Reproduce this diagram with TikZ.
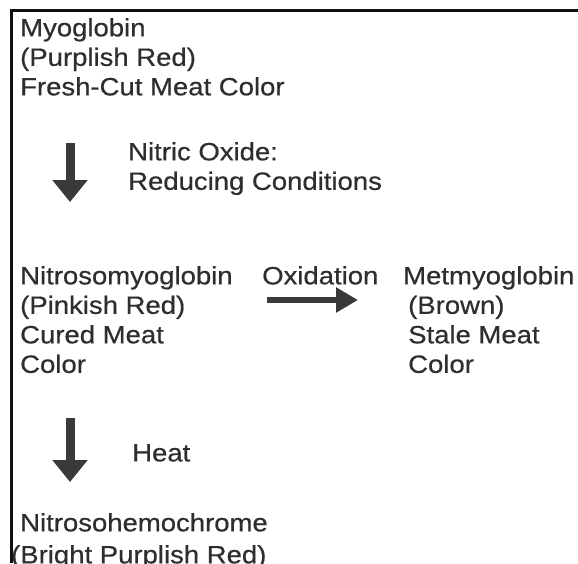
\documentclass[tikz,border=0pt]{standalone}
\usepackage{fontspec}
\setmainfont[FakeStretch=1.1,FakeBold=0.5]{Liberation Sans}
\usetikzlibrary{arrows.meta}
\definecolor{inkgray}{HTML}{2E2E2E}
\definecolor{arrowgray}{HTML}{3A3A3A}
\definecolor{framecol}{HTML}{101010}
\begin{document}
\begin{tikzpicture}[x=1pt,y=1pt,
  lbl/.style={anchor=north west, inner sep=0pt, align=left, text=inkgray,
    font=\fontsize{25}{29.5}\selectfont},
  fatdown/.style={draw=arrowgray, line width=9pt,
    -{Triangle[width=34pt,length=22pt]}},
  fatright/.style={draw=arrowgray, line width=6.5pt,
    -{Triangle[width=24pt,length=22pt]}}]
\useasboundingbox (0,0) rectangle (578,-563);
\clip (0,0) rectangle (578,-563);
\fill[white] (0,0) rectangle (578,-563);
% frame
\draw[framecol, line width=3pt] (11,-563) -- (11,-10) -- (578,-10);
% text nodes
\node[lbl] (myo) at (20,-18) {Myoglobin\\(Purplish Red)\\Fresh-Cut Meat Color};
\node[lbl] (nitric) at (128,-142) {Nitric Oxide:\\Reducing Conditions};
\node[lbl] (nitroso) at (20,-266) {Nitrosomyoglobin\\(Pinkish Red)\\Cured Meat\\Color};
\node[lbl] (oxid) at (262,-266) {Oxidation};
\node[lbl] (met) at (403,-266) {Metmyoglobin\\\hspace*{5pt}(Brown)\\\hspace*{5pt}Stale Meat\\\hspace*{5pt}Color};
\node[lbl] (heat) at (132,-444) {Heat};
\node[lbl, font=\fontsize{25}{32}\selectfont] (hemo) at (11,-513) {\hspace*{9pt}Nitrosohemochrome\\(Bright Purplish Red)};
% arrows
\coordinate (a1s) at (70,-143);
\coordinate (a1e) at (70,-202);
\coordinate (a2s) at (70,-418);
\coordinate (a2e) at (70,-482);
\coordinate (hs) at (267,-300);
\coordinate (he) at (358,-300);
\draw[fatdown] (a1s) -- (a1e);
\draw[fatdown] (a2s) -- (a2e);
\draw[fatright] (hs) -- (he);
\end{tikzpicture}
\end{document}
